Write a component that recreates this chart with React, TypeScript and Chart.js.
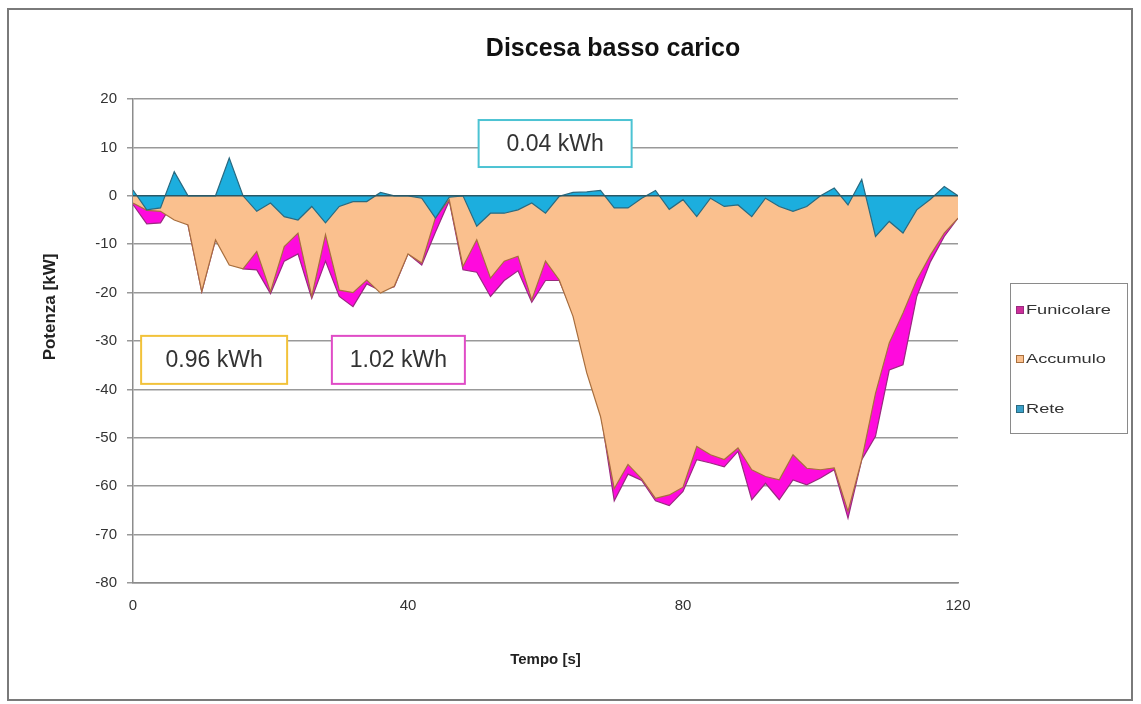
import React, { useEffect, useRef } from "react";
import { Chart, registerables } from "chart.js";

Chart.register(...registerables);

const TITLE = "Discesa basso carico";
const X_TITLE = "Tempo [s]";
const Y_TITLE = "Potenza [kW]";
const SERIES_LABELS = ["Funicolare", "Accumulo", "Rete"];

const TIME = [
  0, 2, 4, 6, 8, 10, 12, 14, 16, 18, 20, 22, 24, 26, 28, 30, 32, 34, 36, 38,
  40, 42, 44, 46, 48, 50, 52, 54, 56, 58, 60, 62, 64, 66, 68, 70, 72, 74, 76, 78,
  80, 82, 84, 86, 88, 90, 92, 94, 96, 98, 100, 102, 104, 106, 108, 110, 112, 114, 116, 118,
  120,
];

const FUNICOLARE = [
  -1.8, -5.8, -5.6, -1.0, -6.0, -19.8, -9.1, -7.0, -15.1, -15.3, -20.2, -13.5, -12.0, -21.2, -13.5, -20.8, -22.9, -18.2, -19.6, -18.8,
  -12.0, -14.3, -7.5, -1.0, -15.3, -15.8, -20.8, -17.5, -15.5, -22.0, -17.5, -17.5, -24.3, -35.8, -44.5, -63.0, -57.5, -58.8, -63.0, -64.0,
  -61.1, -54.5, -55.2, -56.0, -52.8, -62.8, -59.4, -62.8, -58.7, -59.7, -58.3, -56.6, -66.6, -54.5, -49.7, -36.0, -34.9, -20.8, -13.6, -8.4,
  -4.6,
];

const ACCUMULO = [
  -1.5, -3.0, -3.2, -5.0, -6.0, -19.8, -9.1, -14.3, -15.1, -11.5, -19.8, -10.5, -7.7, -20.8, -8.0, -19.5, -20.0, -17.4, -20.1, -18.7,
  -12.0, -13.9, -4.5, -0.8, -14.6, -9.1, -17.0, -13.5, -12.5, -21.5, -13.5, -17.4, -24.9, -36.6, -45.6, -60.5, -55.5, -58.5, -62.5, -61.8,
  -60.2, -51.8, -53.5, -54.5, -52.1, -56.6, -58.0, -58.7, -53.5, -56.3, -56.6, -56.2, -65.2, -54.5, -40.8, -30.4, -24.2, -17.4, -12.2, -7.7,
  -4.6,
];

const RETE = [
  1.2, -2.9, -2.5, 5.0, 0, 0, 0, 7.8, 0, -3.2, -1.5, -4.3, -5.0, -2.2, -5.6, -2.2, -1.2, -1.2, 0.7, 0,
  0, -0.5, -4.6, -0.3, 0, -6.3, -3.6, -3.6, -2.9, -1.5, -3.6, -0.1, 0.7, 0.8, 1.1, -2.5, -2.5, -0.5, 1.1, -2.8,
  -0.8, -4.3, -0.5, -2.2, -1.9, -4.3, -0.5, -2.2, -3.2, -2.2, 0, 1.6, -1.9, 3.4, -8.4, -5.3, -7.7, -2.9, -0.7, 1.9,
  0,
];

const ANNOTATION_TEXTS = ["0.04 kWh", "0.96 kWh", "1.02 kWh"];

const FONT = "'Liberation Sans', Arial, sans-serif";

const decorPlugin = {
  id: "decor",
  afterDatasetsDraw(chart: any) {
    const { ctx, scales, chartArea } = chart;
    const y0 = scales.y.getPixelForValue(0);
    ctx.save();
    ctx.strokeStyle = "#2a5866";
    ctx.lineWidth = 1.6;
    ctx.beginPath();
    ctx.moveTo(chartArea.left, y0);
    ctx.lineTo(chartArea.right, y0);
    ctx.stroke();
    ctx.restore();
  },
  afterDraw(chart: any) {
    const { ctx, scales } = chart;
    const xs = scales.x;
    const ys = scales.y;
    ctx.save();
    // outer frame
    ctx.strokeStyle = "#7a7a7a";
    ctx.lineWidth = 2;
    ctx.strokeRect(8, 9, 1124, 691);

    // title
    ctx.fillStyle = "#111";
    ctx.font = `bold 25px ${FONT}`;
    ctx.textAlign = "center";
    ctx.textBaseline = "middle";
    ctx.fillText(TITLE, 613, 49);

    // y title
    ctx.save();
    ctx.translate(50, 307);
    ctx.rotate(-Math.PI / 2);
    ctx.font = `bold 17px ${FONT}`;
    ctx.fillStyle = "#222";
    ctx.fillText(Y_TITLE, 0, 0);
    ctx.restore();

    // annotation boxes (centres in data coordinates)
    const boxes = [
      { t: 61.4, v: 10.8, w: 153, h: 47, color: "#4cc3d3" },
      { t: 11.8, v: -33.9, w: 146, h: 48, color: "#f2c23a" },
      { t: 38.6, v: -33.9, w: 133, h: 48, color: "#e04cc6" },
    ];
    boxes.forEach((b, i) => {
      const cx = xs.getPixelForValue(b.t);
      const cy = ys.getPixelForValue(b.v);
      ctx.fillStyle = "#fff";
      ctx.fillRect(cx - b.w / 2, cy - b.h / 2, b.w, b.h);
      ctx.strokeStyle = b.color;
      ctx.lineWidth = 2;
      ctx.strokeRect(cx - b.w / 2, cy - b.h / 2, b.w, b.h);
      ctx.fillStyle = "#333";
      ctx.font = `23px ${FONT}`;
      ctx.textAlign = "center";
      ctx.textBaseline = "middle";
      ctx.fillText(ANNOTATION_TEXTS[i], cx, cy + 1);
    });

    // legend
    ctx.strokeStyle = "#8a8a8a";
    ctx.lineWidth = 1;
    ctx.strokeRect(1010.5, 283.5, 117, 150);
    const rows = [310, 359, 409];
    chart.data.datasets.forEach((ds: any, i: number) => {
      const y = rows[i];
      ctx.fillStyle = ds.legendColor;
      ctx.fillRect(1016, y - 4, 8, 8);
      ctx.strokeStyle = ds.borderColor;
      ctx.lineWidth = 1;
      ctx.strokeRect(1016.5, y - 3.5, 7, 7);
      ctx.save();
      ctx.translate(1026, y);
      ctx.scale(1.4, 1);
      ctx.font = `13px ${FONT}`;
      ctx.fillStyle = "#333";
      ctx.textAlign = "left";
      ctx.textBaseline = "middle";
      ctx.fillText(ds.label, 0, 0);
      ctx.restore();
    });
    ctx.restore();
  },
};

export default function App() {
  const ref = useRef<HTMLCanvasElement>(null);
  useEffect(() => {
    const toPts = (arr: number[]) => TIME.map((t, i) => ({ x: t, y: arr[i] }));
    const chart = new Chart(ref.current as HTMLCanvasElement, {
      type: "line",
      data: {
        datasets: [
          {
            label: SERIES_LABELS[0],
            data: toPts(FUNICOLARE),
            backgroundColor: "#ff0add",
            borderColor: "#9a2a80",
            legendColor: "#cc2f99",
            borderWidth: 1.2,
            fill: "origin",
            pointRadius: 0,
            tension: 0,
            order: 3,
          } as any,
          {
            label: SERIES_LABELS[1],
            data: toPts(ACCUMULO),
            backgroundColor: "#fac08e",
            borderColor: "#a86f3e",
            legendColor: "#fac08e",
            borderWidth: 1.2,
            fill: "origin",
            pointRadius: 0,
            tension: 0,
            order: 2,
          } as any,
          {
            label: SERIES_LABELS[2],
            data: toPts(RETE),
            backgroundColor: "#1caede",
            borderColor: "#2a6a80",
            legendColor: "#3a9fc8",
            borderWidth: 1.2,
            fill: "origin",
            pointRadius: 0,
            tension: 0,
            order: 1,
          } as any,
        ],
      },
      options: {
        responsive: false,
        animation: false,
        layout: { padding: { top: 99, right: 183, bottom: 0, left: 0 } },
        plugins: {
          legend: { display: false },
          title: { display: false },
          tooltip: { enabled: false },
        },
        scales: {
          x: {
            type: "linear",
            min: 0,
            max: 120,
            ticks: {
              stepSize: 40,
              padding: 14,
              color: "#333",
              font: { family: FONT, size: 15 },
              maxRotation: 0,
            },
            grid: { display: false, drawTicks: false },
            border: { display: true, color: "#8c8c8c", width: 1.5 },
            title: {
              display: true,
              text: X_TITLE,
              color: "#222",
              font: { family: FONT, size: 15, weight: "bold" },
              padding: { top: 0, bottom: 35 },
            },
            afterFit: (s: any) => {
              s.height = 121;
            },
          },
          y: {
            type: "linear",
            min: -80,
            max: 20,
            ticks: {
              stepSize: 10,
              padding: 10,
              color: "#333",
              font: { family: FONT, size: 15 },
            },
            grid: { color: "#999", lineWidth: 1.5, tickLength: 6 },
            border: { display: true, color: "#8c8c8c", width: 1.5 },
            afterFit: (s: any) => {
              s.width = 133;
            },
          },
        },
      },
      plugins: [decorPlugin],
    } as any);
    return () => chart.destroy();
  }, []);
  return (
    <div style={{ position: "absolute", left: 0, top: 0, width: 1141, height: 704, background: "#fff" }}>
      <canvas ref={ref} width={1141} height={704} style={{ display: "block" }} />
    </div>
  );
}
